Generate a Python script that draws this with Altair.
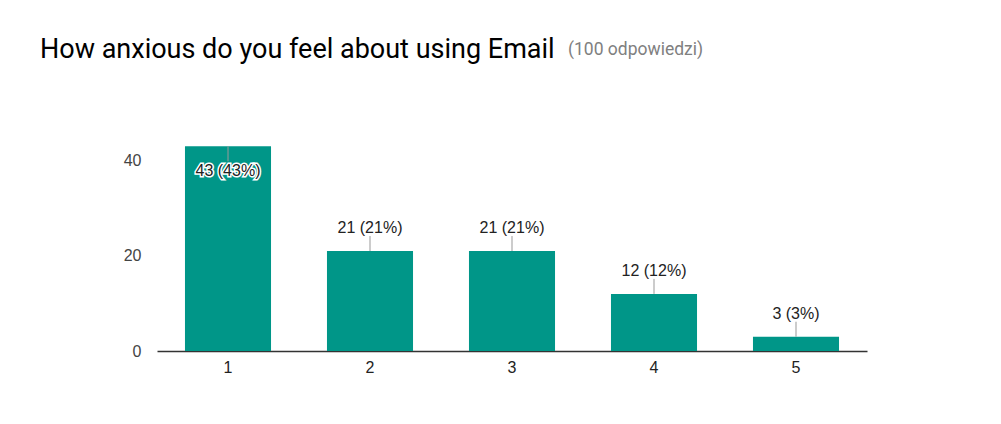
import altair as alt
import pandas as pd

categories = ["1", "2", "3", "4", "5"]
counts = [43, 21, 21, 12, 3]
total_responses = 100
title_text = "How anxious do you feel about using Email"
subtitle_text = "(100 odpowiedzi)"

df = pd.DataFrame({"cat": categories, "count": counts})

base = alt.Chart(df).transform_calculate(
    pct="round(datum.count / %d * 100)" % total_responses,
    label="datum.count + ' (' + datum.pct + '%)'",
)

xenc = alt.X(
    "cat:N",
    sort=categories,
    scale=alt.Scale(paddingInner=0.394, paddingOuter=0.197),
    axis=alt.Axis(
        title=None, labelAngle=0, ticks=False, domainColor="#333333", domainWidth=1.5,
        labelColor="#222222", labelFont="Liberation Sans", labelFontSize=16, labelPadding=8,
    ),
)
yscale = alt.Scale(domain=[0, 50])
yenc = alt.Y(
    "count:Q",
    scale=yscale,
    axis=alt.Axis(
        title=None, values=[0, 20, 40], grid=False, domain=False, ticks=False,
        labelColor="#444444", labelFont="Liberation Sans", labelFontSize=16, labelPadding=16,
    ),
)

bars = base.mark_bar(color="#009688").encode(x=xenc, y=yenc)

outside = "datum.count <= 40"
inside = "datum.count > 40"

rule_out = base.transform_filter(outside).mark_rule(color="#999999", strokeWidth=1, y2Offset=-15).encode(
    x=alt.X("cat:N", sort=categories), y=alt.Y("count:Q", scale=yscale), y2="count:Q"
)
rule_in = base.transform_filter(inside).mark_rule(color="#999999", strokeWidth=1, y2Offset=15).encode(
    x=alt.X("cat:N", sort=categories), y=alt.Y("count:Q", scale=yscale), y2="count:Q"
)

def label_layers(flt, dy):
    halo = base.transform_filter(flt).mark_text(
        font="Liberation Sans", fontSize=16, dy=dy, baseline="middle",
        stroke="white", strokeWidth=3, color="white",
    ).encode(x=alt.X("cat:N", sort=categories), y=alt.Y("count:Q", scale=yscale), text="label:N")
    txt = base.transform_filter(flt).mark_text(
        font="Liberation Sans", fontSize=16, dy=dy, baseline="middle", color="#222222",
    ).encode(x=alt.X("cat:N", sort=categories), y=alt.Y("count:Q", scale=yscale), text="label:N")
    return [halo, txt]

title_df = pd.DataFrame({"t": [title_text]})
sub_df = pd.DataFrame({"t": [subtitle_text]})
title = alt.Chart(title_df).mark_text(
    font="Roboto", fontSize=27, align="left", baseline="alphabetic", color="#000000"
).encode(x=alt.value(-117), y=alt.value(-55), text="t:N")
subtitle = alt.Chart(sub_df).mark_text(
    font="Roboto", fontSize=17.5, align="left", baseline="alphabetic", color="#808080"
).encode(x=alt.value(411), y=alt.value(-58), text="t:N")

chart = alt.layer(
    bars, rule_out, rule_in, *label_layers(outside, -23), *label_layers(inside, 25), title, subtitle
).properties(
    width=710, height=238,
    autosize=alt.AutoSizeParams(type="none"),
    padding={"left": 149, "top": 105, "right": 125, "bottom": 60},
).configure(background="white").configure_view(strokeWidth=0, stroke=None)

chart.save("out.html", embed_options={"renderer": "svg", "actions": False})
